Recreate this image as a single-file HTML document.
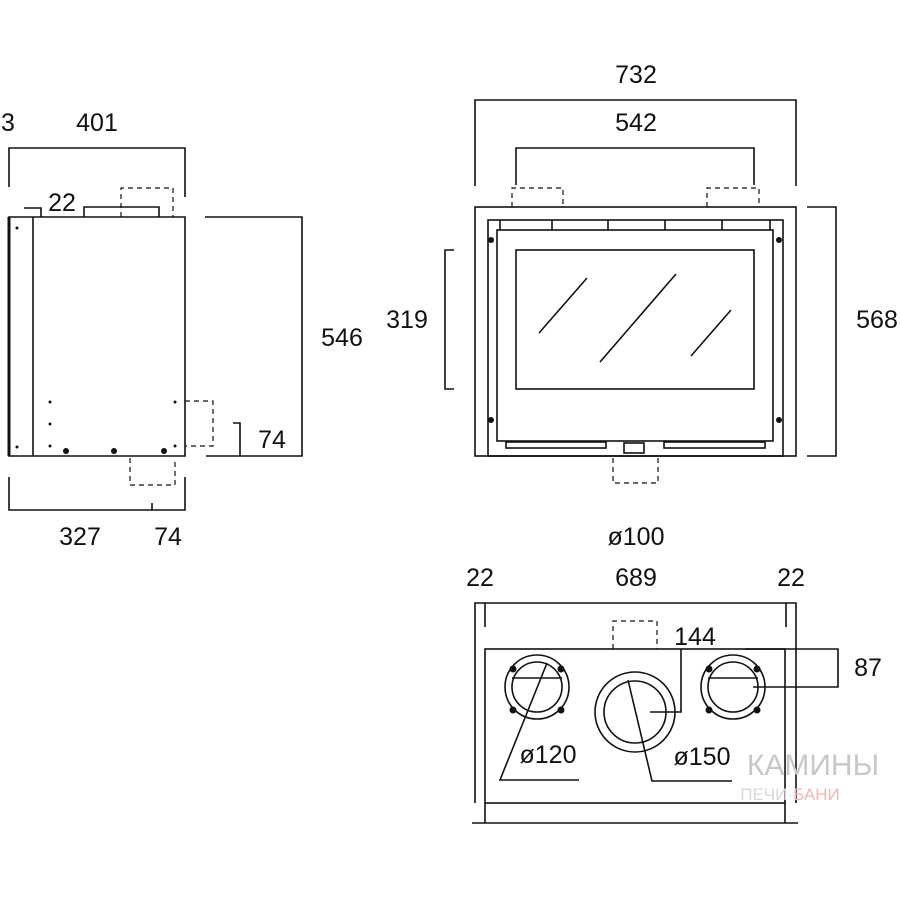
<!DOCTYPE html>
<html><head><style>body{margin:0;background:#fff}svg{display:block}text{font-family:"Liberation Sans","DejaVu Sans",sans-serif;font-size:25px;fill:#111;text-anchor:middle}</style></head><body>
<svg width="900" height="900" viewBox="0 0 900 900" xmlns="http://www.w3.org/2000/svg">
<g fill="none" stroke="#111" stroke-width="1.6">
<path d="M9 187V148H185V197"/>
<path d="M9 456V217H185V456Z"/>
<line x1="9" y1="217" x2="9" y2="456" stroke-width="3"/>
<line x1="33" y1="217" x2="33" y2="456"/>
<path d="M24 208H41V217"/>
<path d="M84 217V207H159V217"/>
<path d="M121 217V188H173V217" stroke-dasharray="5,4" stroke-width="1.2"/>
<path d="M185 401H213V446H185" stroke-dasharray="5,4" stroke-width="1.2"/>
<path d="M130 458V485H175V458" stroke-dasharray="5,4" stroke-width="1.2"/>
<path d="M205 217H302V456H206"/>
<path d="M233 423H240V456"/>
<path d="M9 477V510H185V477M152 510V503"/>
<path d="M475 186V100H796V186"/>
<path d="M516 185V148H754V185"/>
<rect x="475" y="207" width="321" height="249"/>
<rect x="488" y="220" width="295" height="236"/>
<rect x="497" y="230" width="276" height="211"/>
<rect x="516" y="250" width="238" height="139"/>
<line x1="539" y1="333" x2="587" y2="278"/><line x1="600" y1="362" x2="676" y2="274"/><line x1="691" y1="356" x2="731" y2="310"/>
<path d="M500 220V230M552 220V230M608 220V230M665 220V230M722 220V230M770 220V230"/>
<rect x="506" y="442" width="100" height="6"/><rect x="664" y="442" width="101" height="6"/>
<rect x="624" y="443" width="20" height="10"/>
<path d="M512 207V188H563V207M707 207V188H759V207" stroke-dasharray="5,4" stroke-width="1.2"/>
<path d="M613 458V483H658V458" stroke-dasharray="5,4" stroke-width="1.2"/>
<path d="M454 250H445V389H454"/>
<path d="M807 207H836V456H807"/>
<path d="M475 803V603H796V803"/>
<path d="M485 603V627M786 603V627"/>
<rect x="485" y="649" width="300" height="154"/>
<path d="M485 803V823M785 803V823M472 823H798"/>
<path d="M613 649V621H657V649" stroke-dasharray="5,4" stroke-width="1.2"/>
<circle cx="537" cy="687" r="32"/><circle cx="537" cy="687" r="25"/>
<circle cx="635" cy="712" r="40"/><circle cx="635" cy="712" r="31"/>
<circle cx="733" cy="687" r="32"/><circle cx="733" cy="687" r="25"/>
<line x1="512" y1="678" x2="562" y2="678"/><line x1="708" y1="678" x2="758" y2="678"/>
<path d="M547 663L500 780H579"/>
<path d="M628 680L652 781H732"/>
<path d="M650 712H681V649"/>
<path d="M745 649H838V687H753"/>
</g>
<g fill="#111">
<circle cx="17" cy="228" r="1.5"/><circle cx="17" cy="447" r="1.5"/>
<circle cx="50" cy="402" r="1.5"/><circle cx="50" cy="424" r="1.5"/><circle cx="50" cy="446" r="1.5"/>
<circle cx="175" cy="402" r="1.5"/><circle cx="175" cy="446" r="1.5"/>
<circle cx="66" cy="451" r="3"/><circle cx="114" cy="451" r="3"/><circle cx="164" cy="451" r="3"/>
<circle cx="491" cy="240" r="3"/><circle cx="779" cy="240" r="3"/><circle cx="491" cy="420" r="3"/><circle cx="779" cy="420" r="3"/>
<circle cx="513" cy="669" r="3.5"/><circle cx="561" cy="669" r="3.5"/><circle cx="513" cy="710" r="3.5"/><circle cx="561" cy="710" r="3.5"/>
<circle cx="709" cy="669" r="3.5"/><circle cx="757" cy="669" r="3.5"/><circle cx="709" cy="710" r="3.5"/><circle cx="757" cy="710" r="3.5"/>
</g>
<g>
<text x="8" y="131">3</text><text x="97" y="131">401</text><text x="62" y="211">22</text>
<text x="342" y="346">546</text><text x="272" y="448">74</text><text x="80" y="545">327</text><text x="168" y="545">74</text>
<text x="636" y="83">732</text><text x="636" y="131">542</text><text x="407" y="328">319</text><text x="877" y="328">568</text><text x="636" y="545">ø100</text>
<text x="480" y="586">22</text><text x="636" y="586">689</text><text x="791" y="586">22</text>
<text x="695" y="645">144</text><text x="868" y="676">87</text><text x="548" y="763">ø120</text><text x="702" y="765">ø150</text>
</g>
<text x="813" y="775" style="fill:#c8c8c8;font-size:30px">КАМИНЫ</text>
<text x="790" y="800" style="fill:#d8d8d8;font-size:17px">ПЕЧИ·<tspan style="fill:#f0b8b8">БАНИ</tspan></text>
</svg>
</body></html>
